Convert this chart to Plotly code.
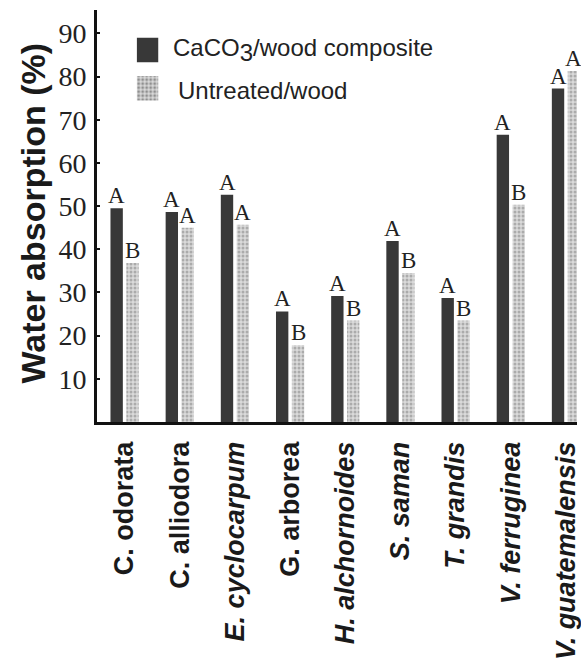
import plotly.graph_objects as go

# Wood species (ticks rendered bold, species names in italics where printed so)
species = ["C. odorata", "C. alliodora", "E. cyclocarpum", "G. arborea",
           "H. alchornoides", "S. saman", "T. grandis", "V. ferruginea",
           "V. guatemalensis"]
species_labels = ["C. odorata", "C. alliodora", "<i>E. cyclocarpum</i>", "G. arborea",
                  "<i>H. alchornoides</i>", "<i>S. saman</i>", "<i>T. grandis</i>",
                  "<i>V. ferruginea</i>", "<i>V. guatemalensis</i>"]

# Water absorption (%)
composite = [49.5, 48.6, 52.6, 25.6, 29.2, 41.9, 28.7, 66.5, 77.2]
untreated = [36.8, 45.0, 45.7, 17.8, 23.5, 34.5, 23.5, 50.3, 81.3]

# Statistical grouping letters
composite_letters = ["A"] * 9
untreated_letters = ["B", "A", "A", "B", "B", "B", "B", "B", "A"]

y_ticks = [10, 20, 30, 40, 50, 60, 70, 80, 90]

DARK = "#383838"
LIGHT_BG = "#dadada"
LIGHT_FG = "#7c7c7c"

BARGAP, GROUPGAP = 0.425, 0.22
# centre of each bar within its category slot (two bars per group)
slot = (1 - BARGAP) / 2
bar_offset = slot / 2

letter_font = dict(family="Liberation Serif", size=23, color="#222")

fig = go.Figure()
fig.add_trace(go.Bar(
    x=species, y=composite, name="CaCO3/wood composite",
    marker=dict(color=DARK, line=dict(width=0)), showlegend=False,
))
fig.add_trace(go.Bar(
    x=species, y=untreated, name="Untreated/wood",
    marker=dict(color=LIGHT_BG, line=dict(width=0),
                pattern=dict(shape=".", bgcolor=LIGHT_BG, fgcolor=LIGHT_FG,
                             size=4, solidity=0.45)),
    showlegend=False,
))

# Legend swatches drawn on a small helper axis (range in pixel-like units)
fig.add_trace(go.Bar(
    x=[0, 0], y=[25, 25], base=[39, 0], width=[1, 1],
    marker=dict(color=[DARK, LIGHT_BG], line=dict(width=0),
                pattern=dict(shape=["", "."], bgcolor=LIGHT_BG, fgcolor=LIGHT_FG,
                             size=4, solidity=0.45)),
    xaxis="x2", yaxis="y2", showlegend=False, hoverinfo="skip",
))

W, H = 581, 660
ML, MR, MT, MB = 97, 0, 10, 232
pw, ph = W - ML - MR, H - MT - MB


def px(x):
    return (x - ML) / pw


def py(y):
    return (H - MB - y) / ph


# Grouping letters sitting on top of each bar
letters = []
for i in range(len(species)):
    for val, txt, sign in ((composite[i], composite_letters[i], -1),
                           (untreated[i], untreated_letters[i], 1)):
        letters.append(dict(
            text=txt, xref="x", yref="y", x=i + sign * bar_offset, y=val,
            xanchor="center", yanchor="bottom", yshift=-2, showarrow=False,
            font=letter_font))

fig.update_layout(
    width=W, height=H,
    margin=dict(l=ML, r=MR, t=MT, b=MB, pad=0),
    paper_bgcolor="white", plot_bgcolor="white",
    barmode="group", bargap=BARGAP, bargroupgap=GROUPGAP,
    showlegend=False,
    xaxis=dict(
        type="category", range=[-0.5, 8.2],
        tickvals=species, ticktext=species_labels, tickangle=-90,
        tickfont=dict(family="Liberation Sans", size=27, color="#1a1a1a", weight="bold"),
        ticks="", ticklabelstandoff=6,
        showline=True, linecolor="#111", linewidth=3,
        showgrid=False, zeroline=False,
    ),
    yaxis=dict(
        range=[0, 95.4], tickvals=y_ticks,
        tickfont=dict(family="Liberation Serif", size=28, color="#222"),
        ticks="inside", ticklen=3, tickwidth=2, tickcolor="#111",
        ticklabelstandoff=2,
        showline=True, linecolor="#111", linewidth=3,
        showgrid=False, zeroline=False,
    ),
    xaxis2=dict(domain=[px(137), px(159)], range=[-0.5, 0.5], anchor="y2",
                visible=False, fixedrange=True),
    yaxis2=dict(domain=[py(102), py(38)], range=[0, 64], anchor="x2",
                visible=False, fixedrange=True),
    annotations=letters + [
        dict(text="<b>Water absorption (%)</b>", textangle=-90,
             xref="paper", yref="paper", x=px(33), y=py(216),
             xanchor="center", yanchor="middle", showarrow=False,
             font=dict(family="Liberation Sans", size=34, color="#1a1a1a")),
        dict(text="CaCO<sub><span style='font-size:24px'>3</span></sub>/wood composite",
             xref="paper", yref="paper", x=px(172), y=py(51),
             xanchor="left", yanchor="middle", showarrow=False,
             font=dict(family="Liberation Sans", size=24, color="#222")),
        dict(text="Untreated/wood",
             xref="paper", yref="paper", x=px(177), y=py(92),
             xanchor="left", yanchor="middle", showarrow=False,
             font=dict(family="Liberation Sans", size=24, color="#222")),
    ],
)

fig.write_html("out.html")
